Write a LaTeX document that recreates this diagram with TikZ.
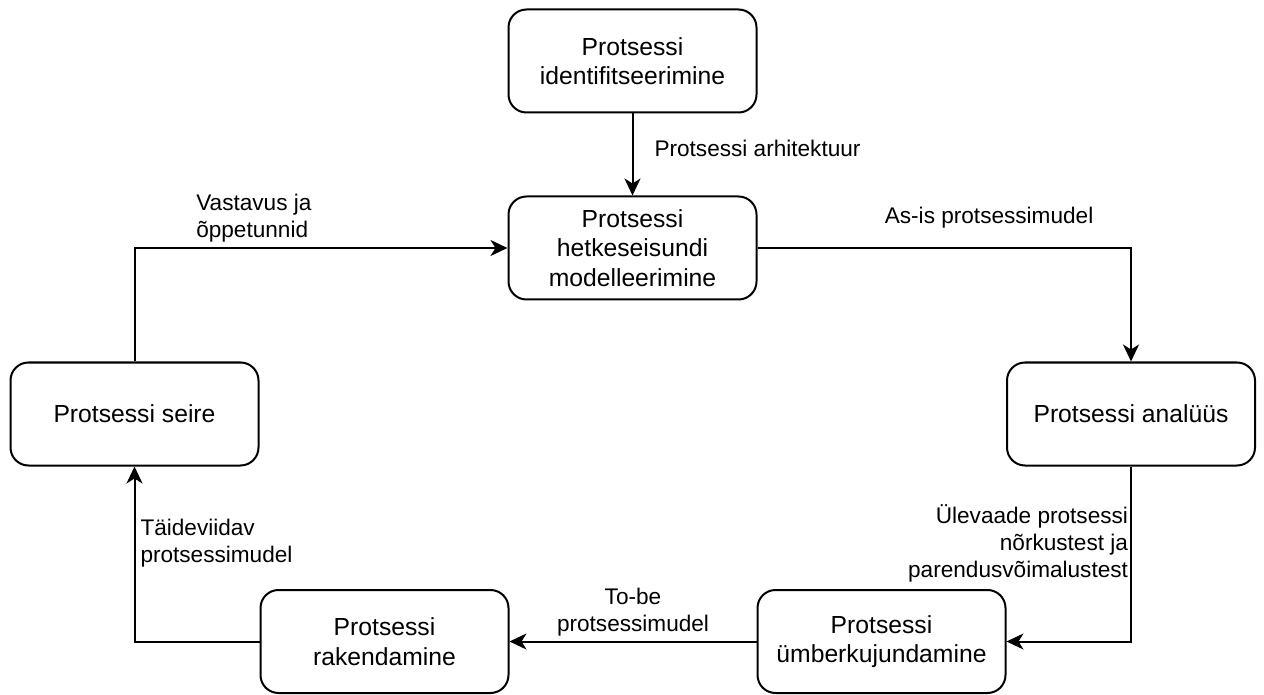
\documentclass[tikz,border=0pt]{standalone}
\usepackage{fontspec}
\setmainfont{Liberation Sans}
\usepackage{tikz}
\usetikzlibrary{arrows.meta,positioning}

\begin{document}
\begin{tikzpicture}[x=0.5pt, y=-0.5pt, >={Stealth[length=8.5pt,width=8pt,inset=2.5pt]},
 every node/.style={align=center},
 box/.style={draw=black, rounded corners=9pt, line width=1pt, fill=white, minimum width=124pt, minimum height=51.5pt, inner sep=2pt, font=\fontsize{12.35}{14.8}\selectfont},
 lbl/.style={inner sep=0pt, font=\fontsize{11.3}{13.6}\selectfont},
 flow/.style={->, line width=1pt}]
\useasboundingbox (0,0) rectangle (1264,695);
\node[box] at (632.5,61) (ident) {Protsessi\\identifitseerimine};
\node[box, below=41pt of ident] (model) {Protsessi\\hetkeseisundi\\modelleerimine};
\node[box] at (1131,414) (analysis) {Protsessi analüüs};
\node[box] at (881.5,641.5) (redesign) {Protsessi\\ümberkujundamine};
\node[box] at (384.5,641.5) (impl) {Protsessi\\rakendamine};
\node[box] at (134.5,414) (monitor) {Protsessi seire};
\draw[flow] (ident) -- node[lbl, pos=0.42, anchor=west, xshift=10.5pt]{Protsessi arhitektuur} (model);
\draw[flow] (model) -| node[lbl, pos=0.31, yshift=15pt]{As-is protsessimudel} (analysis);
\draw[flow] (analysis) |- node[lbl, pos=0.22, anchor=east, align=right, xshift=-1pt]{Ülevaade protsessi\\nõrkustest ja\hspace*{0.45em}\\parendusvõimalustest} (redesign);
\draw[flow] (redesign) -- node[lbl, yshift=14.75pt]{To-be\\protsessimudel} (impl);
\draw[flow] (impl) -| node[lbl, pos=0.78, anchor=west, align=left, xshift=2.5pt]{Täideviidav\\protsessimudel} (monitor);
\draw[flow] (monitor) |- node[lbl, pos=0.66, align=left, yshift=14.75pt]{Vastavus ja\\õppetunnid} (model);
\end{tikzpicture}
\end{document}
